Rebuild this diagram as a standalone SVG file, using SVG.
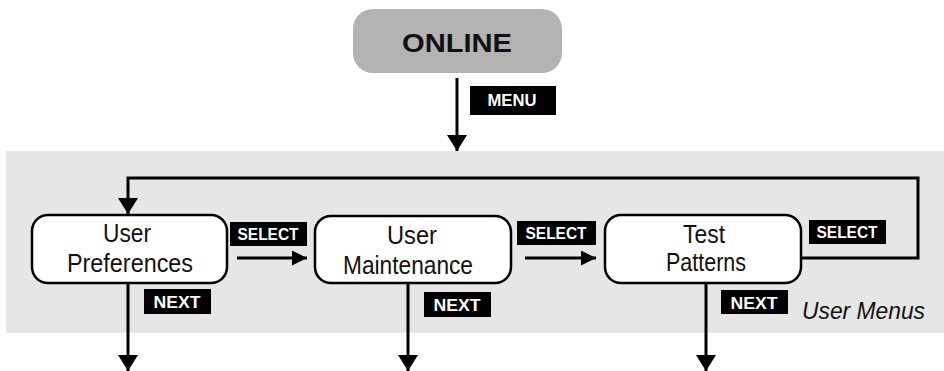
<svg xmlns="http://www.w3.org/2000/svg" width="944" height="371" viewBox="0 0 944 371">
  <style>
    .menu { fill: #ffffff; stroke: #000000; stroke-width: 2.5; }
    .menu-text { font-family: "Liberation Sans", Arial, sans-serif; font-size: 26px; fill: #111111; text-anchor: middle; }
    .key { fill: #000000; }
    .key-text { font-family: "Liberation Sans", Arial, sans-serif; font-weight: bold; fill: #ffffff; text-anchor: middle; }
    .wire { fill: none; stroke: #000000; stroke-width: 3; }
  </style>
  <defs>
    <marker id="arrow" markerUnits="userSpaceOnUse" markerWidth="16" markerHeight="20" refX="16" refY="10" orient="auto">
      <path d="M0,0 L16,10 L0,20 Z" fill="#000000"/>
    </marker>
    <marker id="arrow-small" markerUnits="userSpaceOnUse" markerWidth="15" markerHeight="15" refX="15" refY="7.5" orient="auto">
      <path d="M0,0 L15,7.5 L0,15 Z" fill="#000000"/>
    </marker>
  </defs>

  <rect width="944" height="371" fill="#ffffff"/>

  <!-- user menu band -->
  <g id="user-menus">
    <rect x="6" y="151" width="938" height="182" fill="#e6e6e6"/>
    <text x="802" y="319" font-family="'Liberation Sans', Arial, sans-serif" font-style="italic" font-size="23" fill="#111111" textLength="123" lengthAdjust="spacingAndGlyphs">User Menus</text>
  </g>

  <!-- connectors -->
  <g id="connectors">
    <line class="wire" x1="457" y1="78" x2="457" y2="151" marker-end="url(#arrow)"/>
    <polyline class="wire" points="800,258 918,258 918,178 128,178 128,214" marker-end="url(#arrow)"/>
    <line class="wire" x1="237" y1="258" x2="307" y2="258" marker-end="url(#arrow-small)"/>
    <line class="wire" x1="525" y1="258" x2="596" y2="258" marker-end="url(#arrow-small)"/>
    <line class="wire" x1="128" y1="284" x2="128" y2="371" marker-end="url(#arrow)"/>
    <line class="wire" x1="408" y1="284" x2="408" y2="371" marker-end="url(#arrow)"/>
    <line class="wire" x1="706" y1="284" x2="706" y2="371" marker-end="url(#arrow)"/>

    <!-- key labels -->
    <rect class="key" x="470" y="86" width="86" height="29"/>
    <text class="key-text" x="512" y="106" font-size="16" textLength="49" lengthAdjust="spacingAndGlyphs">MENU</text>
    <rect class="key" x="230" y="222" width="77" height="24"/>
    <text class="key-text" x="268" y="239.5" font-size="16" textLength="61" lengthAdjust="spacingAndGlyphs">SELECT</text>
    <rect class="key" x="517" y="221" width="79" height="24"/>
    <text class="key-text" x="556" y="238.5" font-size="16" textLength="61" lengthAdjust="spacingAndGlyphs">SELECT</text>
    <rect class="key" x="809" y="220" width="77" height="24"/>
    <text class="key-text" x="847" y="237.5" font-size="16" textLength="61" lengthAdjust="spacingAndGlyphs">SELECT</text>
    <rect class="key" x="144" y="289" width="67" height="25"/>
    <text class="key-text" x="177" y="308" font-size="17" textLength="47" lengthAdjust="spacingAndGlyphs">NEXT</text>
    <rect class="key" x="424" y="292" width="67" height="25"/>
    <text class="key-text" x="457" y="311" font-size="17" textLength="47" lengthAdjust="spacingAndGlyphs">NEXT</text>
    <rect class="key" x="721" y="290" width="67" height="24"/>
    <text class="key-text" x="754" y="309" font-size="17" textLength="47" lengthAdjust="spacingAndGlyphs">NEXT</text>
  </g>

  <!-- online state -->
  <g id="online">
    <rect x="353" y="9" width="209" height="64" rx="20" fill="#b3b3b3"/>
    <text x="457" y="52" font-family="'Liberation Sans', Arial, sans-serif" font-weight="bold" font-size="26" fill="#111111" text-anchor="middle" textLength="110" lengthAdjust="spacingAndGlyphs">ONLINE</text>
  </g>

  <g id="user-preferences">
    <rect class="menu" x="32" y="215" width="195" height="68" rx="16"/>
    <text class="menu-text" x="127" y="242" textLength="48" lengthAdjust="spacingAndGlyphs">User</text>
    <text class="menu-text" x="130" y="272" textLength="126" lengthAdjust="spacingAndGlyphs">Preferences</text>
  </g>

  <g id="user-maintenance">
    <rect class="menu" x="315" y="216" width="196" height="67" rx="16"/>
    <text class="menu-text" x="412" y="244" textLength="50" lengthAdjust="spacingAndGlyphs">User</text>
    <text class="menu-text" x="408" y="274" textLength="130" lengthAdjust="spacingAndGlyphs">Maintenance</text>
  </g>

  <g id="test-patterns">
    <rect class="menu" x="605" y="215" width="196" height="68" rx="16"/>
    <text class="menu-text" x="704" y="243" textLength="42" lengthAdjust="spacingAndGlyphs">Test</text>
    <text class="menu-text" x="706" y="271" textLength="80" lengthAdjust="spacingAndGlyphs">Patterns</text>
  </g>
</svg>
